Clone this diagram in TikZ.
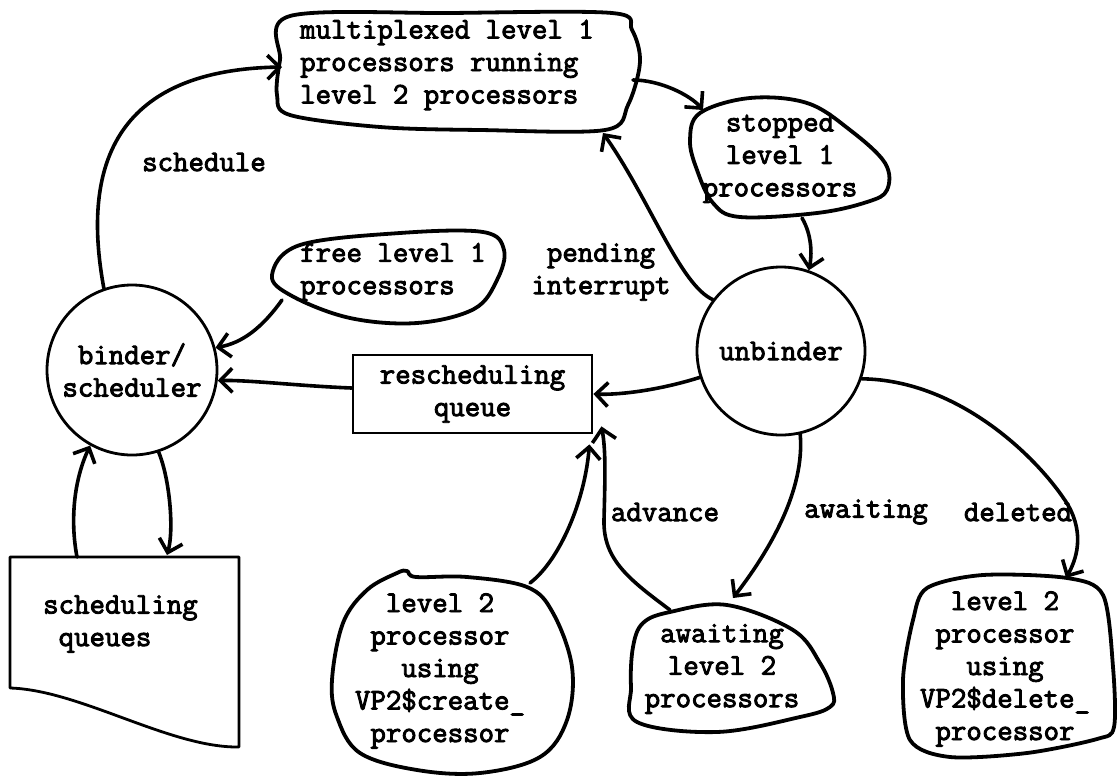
\documentclass[tikz,border=0pt]{standalone}
\usepackage{fontspec}
\newfontfamily\tw{Latin Modern Mono}[FakeBold=3]
\usetikzlibrary{arrows.meta}
\begin{document}
\begin{tikzpicture}[x=1pt,y=-1pt,
  every node/.style={font=\tw\fontsize{30}{32.5}\selectfont, inner sep=0pt},
  blob/.style={line width=3.8pt, line join=round},
  conn/.style={line width=3.6pt, line cap=round, -{Straight Barb[length=12pt,width=24pt]}},
  circ/.style={circle, draw, line width=2.8pt, minimum size=170pt, align=center},
  boxnode/.style={rectangle, draw, line width=2.8pt, align=center},
  lbl/.style={align=center},
  lbll/.style={align=left, anchor=west}]
\useasboundingbox (0,0) rectangle (1117,780);

% ---- circles and box
\node[circ] (binder) at (132,370) {binder/\\scheduler};
\node[circ, minimum size=168pt] (unbinder) at (781,351) {unbinder};
\node[boxnode, minimum width=239pt, minimum height=78pt] (resched) at (472.5,394) {rescheduling\\queue};

% ---- blobs
\draw[blob] plot[smooth cycle, tension=0.55] coordinates {(290,16) (450,13) (612,13) (632,30) (640,62) (628,105) (605,130) (480,130) (380,127) (290,115) (277,95) (280,60)};
\node[lbll] (mux) at (300,65) {multiplexed level 1\\processors running\\level 2 processors};

\draw[blob] plot[smooth cycle, tension=0.6] coordinates {(700,113) (750,98) (807,103) (850,130) (885,163) (887,190) (867,202) (817,213) (740,217) (713,203) (697,170) (690,140)};
\node[lbl] (stopped) at (780,158) {stopped\\level 1\\processors};

\draw[blob] plot[smooth cycle, tension=0.6] coordinates {(272,275) (300,245) (400,233) (483,232) (504,250) (497,280) (474,309) (417,323) (350,318) (292,296)};
\node[lbll] (free) at (300,272) {free level 1\\processors};

\draw[blob] plot[smooth cycle, tension=0.6] coordinates {(643,623) (670,612) (727,605) (793,630) (820,663) (833,693) (830,707) (800,717) (717,732) (637,722) (631,687) (633,647)};
\node[lbl] (await) at (722,669) {awaiting\\level 2\\processors};

\draw[blob] plot[smooth cycle, tension=0.6] coordinates {(367,590) (397,573) (407,571) (416,577) (467,577) (527,587) (553,613) (572,667) (567,720) (540,757) (480,773) (417,770) (360,753) (337,717) (332,680) (343,623)};
\node[lbl] (create) at (440,671) {level 2\\processor\\using\\VP2\$create\_\\processor};

\draw[blob] plot[smooth cycle, tension=0.5] coordinates {(927,588) (983,575) (1067,578) (1103,595) (1113,667) (1114,727) (1097,739) (1027,753) (950,757) (910,740) (903,680) (913,620)};
\node[lbl] (deleted) at (1005,669) {level 2\\processor\\using\\VP2\$delete\_\\processor};

% ---- scheduling queues (document shape)
\draw[line width=2.8pt, line join=round] (10,557) -- (239,557) -- (239,747) .. controls (170,748) and (80,690) .. (10,688) -- cycle;
\node[lbll] (sq) at (43,624) {scheduling\\\phantom{s}queues};

% ---- attachment points
\coordinate (mux-w) at (282,67);
\coordinate (mux-e) at (633,80);
\coordinate (mux-s) at (603,133);
\coordinate (stop-nw) at (703,110);
\coordinate (stop-s) at (802,218);
\coordinate (free-sw) at (282,300);
\coordinate (sq-n1) at (77,557);
\coordinate (sq-n2) at (167,555);
\coordinate (crt-ne) at (530,583);
\coordinate (await-n) at (733,598);
\coordinate (await-nw) at (670,610);
\coordinate (del-n) at (1066,578);

% ---- connectors
\draw[conn] (binder.109) .. controls (80,160) and (120,70) .. (mux-w);
\draw[conn] (free-sw) .. controls (262,328) and (242,343) .. (binder.15);
\draw[conn] ([yshift=6pt]resched.west) .. controls (300,386) and (250,380) .. (binder.-7);
\draw[conn] (sq-n1) .. controls (70,520) and (74,480) .. (binder.-119);
\draw[conn] (binder.-72) .. controls (170,480) and (174,530) .. (sq-n2);
\draw[conn] (mux-e) .. controls (660,80) and (690,95) .. (stop-nw);
\draw[conn] (stop-s) .. controls (812,235) and (812,255) .. (unbinder.71);
\draw[conn] (unbinder.143) .. controls (680,285) and (650,200) .. (mux-s);
\draw[conn] (unbinder.-162) .. controls (660,390) and (620,395) .. (resched.east);
\draw[conn] (unbinder.-77.5) .. controls (805,490) and (770,550) .. (await-n);
\draw[conn] (await-nw) .. controls (630,580) and (603,560) .. (604,520) .. controls (605,480) and (606,450) .. ([xshift=8pt,yshift=8pt]resched.south east);
\draw[conn] (crt-ne) .. controls (560,560) and (585,500) .. ([xshift=-4pt,yshift=-10pt]resched.south east);
\draw[conn] (unbinder.-19.5) .. controls (960,380) and (1040,460) .. (1068,505) .. controls (1085,535) and (1076,560) .. (del-n);

% ---- labels
\node[lbl] (l-sched) at (204,162) {schedule};
\node[lbl] (l-pend) at (601,272) {pending\\interrupt};
\node[lbl] (l-adv) at (665,512) {advance};
\node[lbl] (l-await) at (866,512) {awaiting};
\node[lbl] (l-del) at (1018,512) {deleted};
\end{tikzpicture}
\end{document}
